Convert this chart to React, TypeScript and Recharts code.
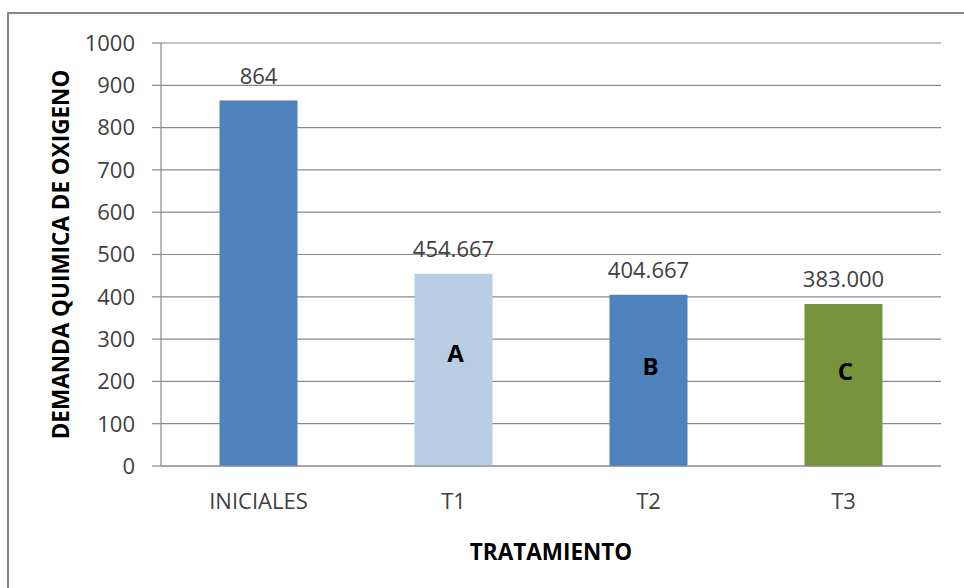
import React from 'react';
import { BarChart, Bar, XAxis, YAxis, CartesianGrid, Cell, LabelList, Label } from 'recharts';

// Chemical oxygen demand per treatment
const categories = ['INICIALES', 'T1', 'T2', 'T3'];
const dqoValues = [864, 454.667, 404.667, 383.0];
const valueDecimals = [0, 3, 3, 3];
const groupLetters = ['', 'A', 'B', 'C'];
const barColors = ['#4F81BD', '#B9CDE5', '#4F81BD', '#77933C'];
const yTicks = [0, 100, 200, 300, 400, 500, 600, 700, 800, 900, 1000];

const data = categories.map((name, i) => ({
  name,
  dqo: dqoValues[i],
  valueText: dqoValues[i].toFixed(valueDecimals[i]),
  letter: groupLetters[i],
}));

const FONT = '"Open Sans", "Noto Sans", sans-serif';
const GRID = '#8a8a8a';
const TEXT = '#404040';

const ValueLabel = (props: any) => {
  const x = Number(props.x);
  const y = Number(props.y);
  const w = Number(props.width);
  return (
    <text x={x + w / 2} y={y - 17} textAnchor="middle" fontFamily={FONT} fontSize={22} fill={TEXT}>
      {props.value}
    </text>
  );
};

// Significance letter drawn inside the bar, a little above its middle
const LetterLabel = (props: any) => {
  if (!props.value) return null;
  const x = Number(props.x);
  const y = Number(props.y);
  const w = Number(props.width);
  const h = Number(props.height);
  return (
    <text
      x={x + w / 2 + 2}
      y={y + h * 0.41}
      textAnchor="middle"
      dominantBaseline="central"
      fontFamily={FONT}
      fontSize={24}
      fontWeight="bold"
      fill="#000"
    >
      {props.value}
    </text>
  );
};

const YTitle = (props: any) => {
  const vb = props.viewBox || {};
  const cx = Number(vb.x) + 60;
  const cy = Number(vb.y) + Number(vb.height) / 2;
  return (
    <text
      x={cx}
      y={cy}
      transform={`rotate(-90 ${cx} ${cy})`}
      textAnchor="middle"
      dominantBaseline="central"
      fontFamily={FONT}
      fontSize={22.5}
      fontWeight="bold"
      fill="#000"
    >
      DEMANDA QUIMICA DE OXIGENO
    </text>
  );
};

const XTitle = (props: any) => {
  const vb = props.viewBox || {};
  const cx = Number(vb.x) + Number(vb.width) / 2;
  const cy = Number(vb.y) + 85;
  return (
    <text
      x={cx}
      y={cy}
      textAnchor="middle"
      dominantBaseline="central"
      fontFamily={FONT}
      fontSize={22.5}
      fontWeight="bold"
      fill="#000"
    >
      TRATAMIENTO
    </text>
  );
};

export default function App() {
  return (
    <div
      style={{
        position: 'fixed',
        left: 0,
        top: 0,
        width: 964,
        height: 588,
        overflow: 'hidden',
        background: '#fff',
      }}
    >
      <div
        style={{
          position: 'absolute',
          left: 7,
          top: 12,
          width: 1100,
          height: 800,
          borderLeft: '2px solid #878787',
          borderTop: '2px solid #878787',
        }}
      />
      <div style={{ position: 'absolute', left: 0, top: 0 }}>
        <BarChart
          width={964}
          height={588}
          data={data}
          margin={{ top: 43, right: 23, bottom: 0, left: 0 }}
          barCategoryGap="30%"
        >
          <CartesianGrid horizontal vertical={false} stroke={GRID} strokeWidth={1.2} />
          <XAxis
            dataKey="name"
            height={122}
            tickLine={false}
            tickSize={6}
            tickMargin={21}
            axisLine={{ stroke: GRID, strokeWidth: 1.2 }}
            tick={{ fontFamily: FONT, fontSize: 22, fill: TEXT }}
            interval={0}
          >
            <Label content={<XTitle />} />
          </XAxis>
          <YAxis
            width={161}
            domain={[0, 1000]}
            ticks={yTicks}
            interval={0}
            tickSize={9}
            tickMargin={17}
            tickLine={{ stroke: GRID, strokeWidth: 1.2 }}
            axisLine={{ stroke: GRID, strokeWidth: 1.2 }}
            tick={{ fontFamily: FONT, fontSize: 22, fill: TEXT }}
          >
            <Label content={<YTitle />} />
          </YAxis>
          <Bar dataKey="dqo" isAnimationActive={false}>
            {data.map((d, i) => (
              <Cell key={d.name} fill={barColors[i]} />
            ))}
            <LabelList dataKey="valueText" content={<ValueLabel />} />
            <LabelList dataKey="letter" content={<LetterLabel />} />
          </Bar>
        </BarChart>
      </div>
    </div>
  );
}
